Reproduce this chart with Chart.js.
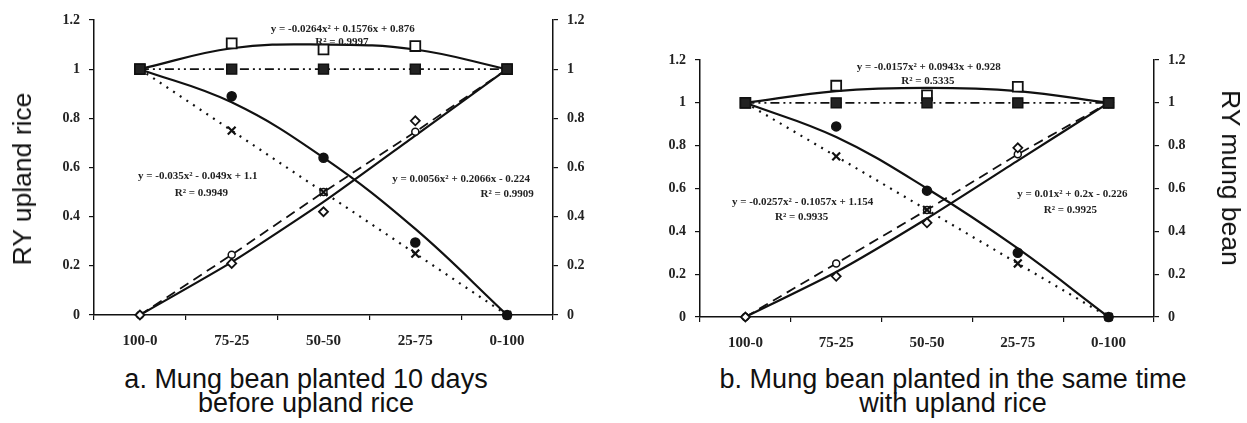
<!DOCTYPE html>
<html>
<head>
<meta charset="utf-8">
<script src="https://cdn.jsdelivr.net/npm/chart.js@4.4.1/dist/chart.umd.min.js"></script>
<style>
  html, body { margin: 0; padding: 0; background: #fff; }
  body { width: 1247px; height: 423px; position: relative; overflow: hidden; font-family: "Liberation Sans", Arial, sans-serif; color: #111; }
  canvas { position: absolute; top: 0; }
  #chartA { left: 0; }
  #chartB { left: 620px; }
  .ytitle { position: absolute; font-size: 26.5px; line-height: 26px; white-space: nowrap; }
  .caption { position: absolute; font-size: 27px; line-height: 24px; text-align: center; white-space: nowrap; transform: translateX(-50%); }
</style>
</head>
<body>
<canvas id="chartA" width="620" height="360"></canvas>
<canvas id="chartB" width="627" height="360"></canvas>
<div class="ytitle" style="left:22px;top:179px;transform:translate(-50%,-50%) rotate(-90deg)">RY upland rice</div>
<div class="ytitle" style="left:1231px;top:178px;transform:translate(-50%,-50%) rotate(90deg)">RY mung bean</div>
<div class="caption" style="left:306px;top:367px">a. Mung bean planted 10 days<br>before upland rice</div>
<div class="caption" style="left:953px;top:367px">b. Mung bean planted in the same time<br>with upland rice</div>
<script>
const categories = ['100-0', '75-25', '50-50', '25-75', '0-100'];
const yTickLabels = ['0', '0.2', '0.4', '0.6', '0.8', '1', '1.2'];

// a. mung bean planted 10 days before upland rice
const aTotalRY = [1, 1.105, 1.08, 1.094, 1];
const aTotalFit = [1.0, 1.085, 1.1, 1.08, 1.0];
const aExpectedTotal = [1, 1, 1, 1, 1];
const aRiceRY = [1, 0.89, 0.64, 0.295, 0];
const aRiceFit = [1.0, 0.865, 0.64, 0.35, 0];
const aRiceExpected = [1, 0.75, 0.5, 0.25, 0];
const aBeanRY = [0, 0.21, 0.42, 0.79, 1];
const aBeanFit = [0, 0.215, 0.46, 0.73, 1];
const aBeanExpected = [0, 0.245, 0.5, 0.745, 1];
const aEquationText = [
  'y = -0.0264x² + 0.1576x + 0.876', 'R² = 0.9997',
  'y = -0.035x² - 0.049x + 1.1', 'R² = 0.9949',
  'y = 0.0056x² + 0.2066x - 0.224', 'R² = 0.9909'
];

// b. mung bean planted at the same time
const bTotalRY = [1, 1.08, 1.035, 1.075, 1];
const bTotalFit = [1.0, 1.055, 1.07, 1.055, 1.0];
const bExpectedTotal = [1, 1, 1, 1, 1];
const bRiceRY = [1, 0.89, 0.59, 0.3, 0];
const bRiceFit = [1.0, 0.84, 0.6, 0.32, 0];
const bRiceExpected = [1, 0.75, 0.5, 0.25, 0];
const bBeanRY = [0, 0.19, 0.44, 0.79, 1];
const bBeanFit = [0, 0.21, 0.46, 0.73, 1];
const bBeanExpected = [0, 0.25, 0.5, 0.76, 1];
const bEquationText = [
  'y = -0.0157x² + 0.0943x + 0.928', 'R² = 0.5335',
  'y = -0.0257x² - 0.1057x + 1.154', 'R² = 0.9935',
  'y = 0.01x² + 0.2x - 0.226', 'R² = 0.9925'
];

const ink = '#111';

// draws the regression equations, anchored in data coordinates
const equationPlugin = {
  id: 'equations',
  afterDatasetsDraw(chart, args, opts) {
    const { ctx, scales: { x, y } } = chart;
    ctx.save();
    ctx.font = 'bold 11px "Liberation Serif"';
    ctx.fillStyle = '#222';
    ctx.textAlign = 'center';
    ctx.textBaseline = 'middle';
    opts.texts.forEach((t, i) => {
      const at = opts.anchors[i];
      ctx.fillText(t, x.getPixelForValue(at[0]), y.getPixelForValue(at[1]));
    });
    ctx.restore();
  }
};

const markers = (data, style, radius, fill, width) => ({
  data, showLine: false, pointStyle: style, pointRadius: radius,
  pointBackgroundColor: fill, pointBorderColor: ink, pointBorderWidth: width || 1.5,
  clip: false, order: 0
});
const curve = (data, dash, width, tension) => ({
  data, pointRadius: 0, borderColor: ink, borderWidth: width, borderDash: dash,
  tension: tension, clip: false, order: 1
});

function makeChart(id, d, L) {
  const tickFont = { family: '"Liberation Serif", "Times New Roman", serif', size: 14, weight: 'bold' };
  const yAxis = (pos, w) => ({
    position: pos, min: 0, max: 1.2,
    ticks: { stepSize: 0.2, color: '#222', font: tickFont, padding: 9, callback: (v, i) => yTickLabels[i] },
    grid: { drawOnChartArea: false, color: ink, tickLength: 5, lineWidth: 1.2 },
    border: { color: ink, width: 1.5 },
    afterFit: s => { s.width = w; }
  });
  return new Chart(document.getElementById(id), {
    type: 'line',
    data: {
      labels: categories,
      datasets: [
        markers(d.totalRY, 'rect', 7, '#fff', 1.8),
        curve(d.totalFit, [], 2.2, 0.4),
        Object.assign(markers(d.expectedTotal, 'rect', 7, '#222'), {
          showLine: true, borderColor: ink, borderWidth: 1.8, borderDash: [9, 4, 2, 4, 2, 4], order: -1
        }),
        markers(d.riceRY, 'circle', 4.5, '#111'),
        curve(d.riceFit, [], 2.2, 0.4),
        Object.assign(markers(d.riceExpected, 'crossRot', 5.5, '#111', 2.2), {
          showLine: true, borderColor: ink, borderWidth: 2.2, borderDash: [2, 6]
        }),
        markers(d.beanRY, 'rectRot', 4.5, '#fff', 1.8),
        curve(d.beanFit, [], 2.2, 0.2),
        Object.assign(markers(d.beanExpected, 'circle', 3.5, '#fff', 1.5), {
          showLine: true, borderColor: ink, borderWidth: 1.8, borderDash: [10, 6]
        })
      ]
    },
    options: {
      responsive: false,
      animation: false,
      layout: { padding: { top: L.top, left: 0, right: 0, bottom: 0 } },
      plugins: {
        legend: { display: false },
        tooltip: { enabled: false },
        equations: { texts: d.equations, anchors: L.anchors }
      },
      scales: {
        x: {
          type: 'category', offset: true,
          grid: { offset: true, drawOnChartArea: false, color: ink, tickLength: 5, lineWidth: 1.2 },
          border: { color: ink, width: 1.5 },
          ticks: { color: '#222', font: Object.assign({}, tickFont, { size: 15 }), padding: 12, maxRotation: 0, autoSkip: false },
          afterFit: s => { s.height = L.bottom; }
        },
        y: yAxis('left', L.left),
        y2: yAxis('right', L.right)
      }
    },
    plugins: [equationPlugin]
  });
}

makeChart('chartA', {
  totalRY: aTotalRY, totalFit: aTotalFit, expectedTotal: aExpectedTotal,
  riceRY: aRiceRY, riceFit: aRiceFit, riceExpected: aRiceExpected,
  beanRY: aBeanRY, beanFit: aBeanFit, beanExpected: aBeanExpected,
  equations: aEquationText
}, {
  top: 20, left: 94, right: 67, bottom: 45,
  anchors: [[2.21, 1.164], [2.2, 1.111], [0.63, 0.566], [0.67, 0.496], [3.5, 0.553], [4.0, 0.492]]
});

makeChart('chartB', {
  totalRY: bTotalRY, totalFit: bTotalFit, expectedTotal: bExpectedTotal,
  riceRY: bRiceRY, riceFit: bRiceFit, riceExpected: bRiceExpected,
  beanRY: bBeanRY, beanFit: bBeanFit, beanExpected: bBeanExpected,
  equations: bEquationText
}, {
  top: 60, left: 80, right: 93, bottom: 43,
  anchors: [[2.02, 1.167], [2.01, 1.102], [0.63, 0.537], [0.62, 0.467], [3.6, 0.574], [3.58, 0.5]]
});
</script>
</body>
</html>
